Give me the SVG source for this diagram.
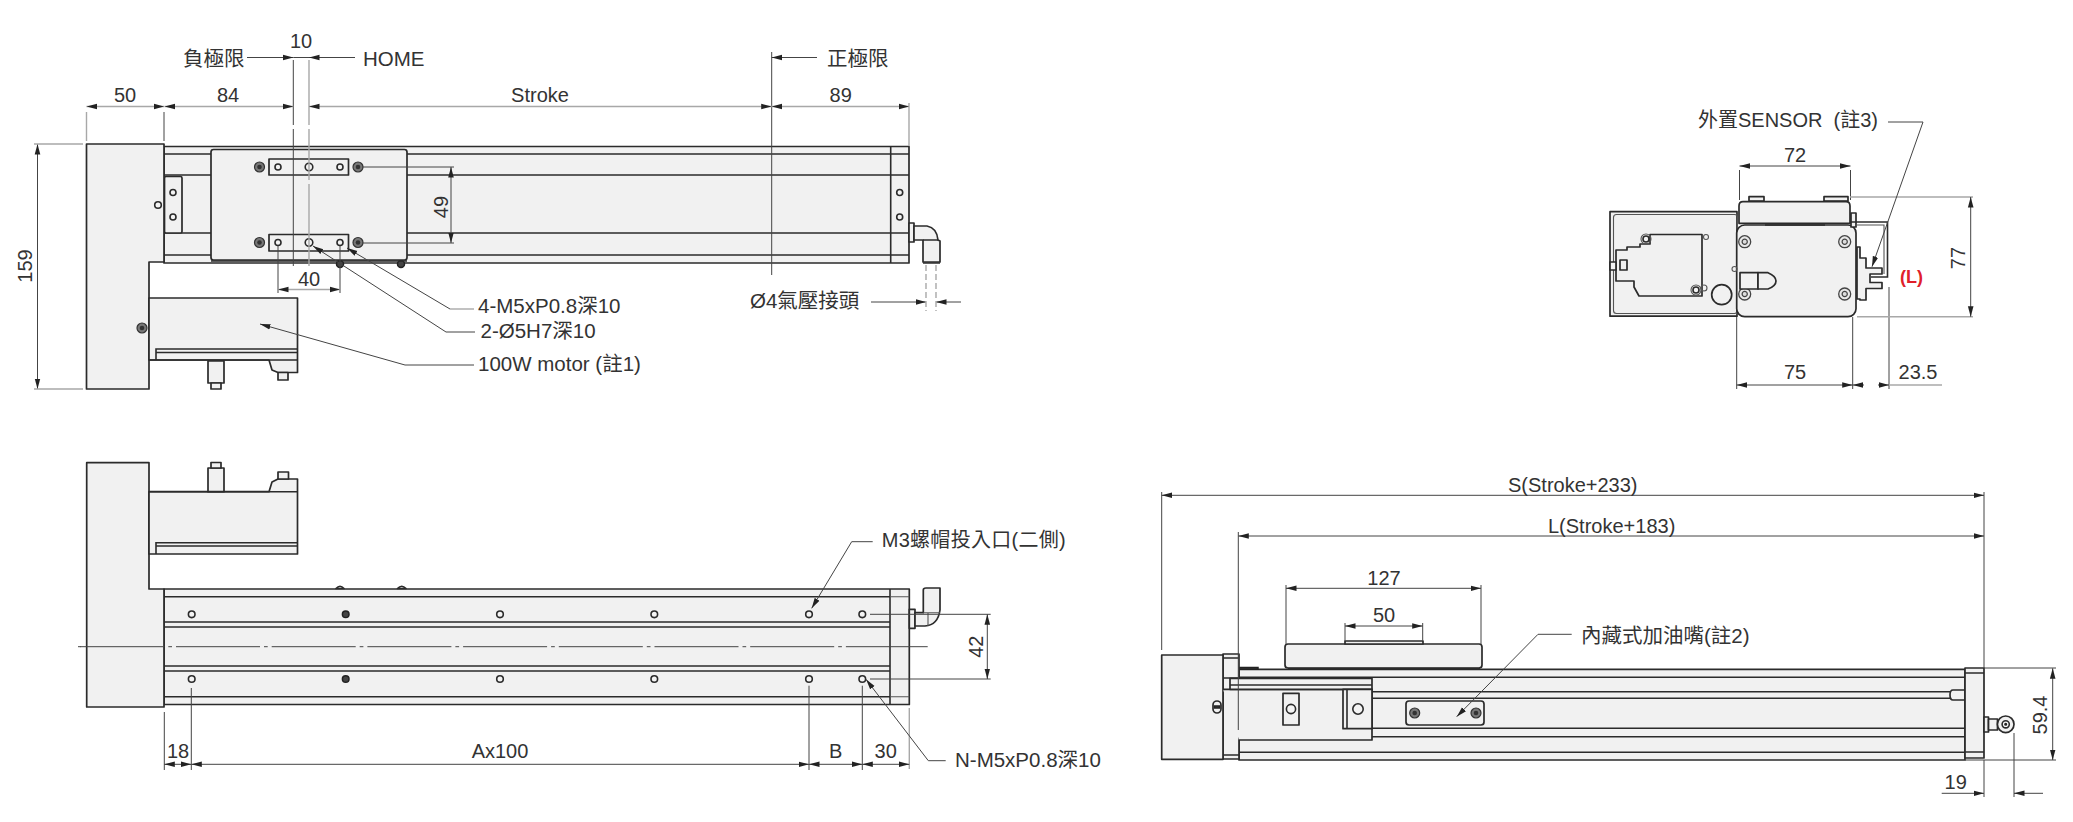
<svg xmlns="http://www.w3.org/2000/svg" width="2073" height="822" viewBox="0 0 2073 822">
<style>
.b{fill:#f1f1f1;stroke:#2b2b2b;stroke-width:1.7;stroke-linejoin:round}
.l{fill:none;stroke:#2b2b2b;stroke-width:1.6}
.s{fill:none;stroke:#555;stroke-width:1.1}
.h{fill:#f4f4f4;stroke:#2b2b2b;stroke-width:1.6}
.k{fill:#444;stroke:#222;stroke-width:1.5}
.d{fill:none;stroke:#444;stroke-width:1}
.g{fill:none;stroke:#a8a8a8;stroke-width:1.4}
.a{marker-end:url(#ah)}
.aa{marker-start:url(#ah);marker-end:url(#ah)}
text{font-family:"Liberation Sans","Noto Sans CJK TC",sans-serif;font-size:20px;fill:#333}
.w{font-size:20.5px}
.m{text-anchor:middle}
.r{font-weight:bold;fill:#e0202a;font-size:18px}
</style>
<defs>
<marker id="ah" markerUnits="userSpaceOnUse" markerWidth="11" markerHeight="8" refX="10.5" refY="4" orient="auto-start-reverse"><path d="M0,1.2 L10.5,4 L0,6.8 Z" fill="#222"/></marker>
<g id="scr"><circle r="6" fill="#e8e8e8" stroke="#444" stroke-width="1.3"/><circle r="2.6" fill="#ddd" stroke="#444" stroke-width="1.2"/></g>
<g id="blt"><circle r="5" fill="#777" stroke="#333" stroke-width="1.2"/><circle r="2.3" fill="#333"/></g>
</defs>

<g id="top-view">
<path class="b" d="M164,146.5H909V263H164Z"/>
<path class="l" d="M164,154H909M164,175H909M164,233H909M164,255H909M890.7,146.5V263"/>
<rect class="b" x="164.5" y="176.5" width="17.5" height="56.5" rx="1.5"/>
<circle class="h" cx="173" cy="192.5" r="3"/><circle class="h" cx="173" cy="217" r="3"/>
<circle class="h" cx="899.7" cy="192.5" r="3"/><circle class="h" cx="899.7" cy="217" r="3"/>
<circle class="k" cx="340" cy="264" r="3.5"/><circle class="k" cx="401" cy="264" r="3.5"/>
<rect class="b" x="211" y="149.5" width="196" height="110.5" rx="2.5"/>
<path class="l" d="M211,261H407"/>
<rect class="b" x="269" y="159" width="79.5" height="16"/><rect class="b" x="269" y="234.5" width="79.5" height="16.5"/>
<circle class="h" cx="278" cy="167" r="3"/><circle class="h" cx="309" cy="167" r="3.8"/><circle class="h" cx="340" cy="167" r="3"/>
<circle class="h" cx="278" cy="242.5" r="3"/><circle class="h" cx="309" cy="242.5" r="3.8"/><circle class="h" cx="340" cy="242.5" r="3"/>
<use href="#blt" x="259.5" y="167"/><use href="#blt" x="358" y="167"/><use href="#blt" x="259.5" y="242.5"/><use href="#blt" x="358" y="242.5"/>
<path class="b" d="M86.5,144H164V262H149V389H86.5Z"/>
<circle class="h" cx="158" cy="205" r="3.3"/><use href="#blt" x="142" y="328"/>
<path class="b" d="M149,298H297.5V372.5H278L272,370L269,360H149Z"/>
<path class="l" d="M156,360V349H297M156,352.5H297M149,360H297"/>
<rect class="b" x="208" y="361" width="16" height="22"/><rect class="b" x="211" y="383" width="10" height="6"/>
<rect class="b" x="278" y="372.5" width="10" height="7.5"/>
<rect class="b" x="909" y="223" width="5" height="19"/>
<path class="b" d="M914,226H927Q937,228 938,240L940,241V262H923V240H914Z"/>
<path class="l" d="M923,240H938M923,263H940" />
</g>

<g id="side-view">
<rect class="b" x="1610" y="211.7" width="127" height="104.5"/>
<rect class="s" x="1613.5" y="214.5" width="124" height="99" rx="3"/>
<path class="b" d="M1749,201V196.7H1764V201ZM1824,201V196.7H1848V201Z"/>
<path class="b" d="M1739,223.3V206Q1739,201.7 1743,201.7H1846Q1850,201.7 1850,206V223.3Z"/>
<rect class="b" x="1736.7" y="225" width="119.3" height="91.7" rx="8"/>
<path class="l" d="M1765,225H1825" stroke-width="2.4"/>
<rect class="b" x="1851" y="213" width="5" height="14"/>
<path class="l" d="M1850,222H1887.5V277H1871"/>
<path class="s" d="M1856,225H1884V274"/>
<path class="b" d="M1650,234.5H1702V296H1639L1634,287V281H1616V250H1627V247H1640V244H1650Z"/>
<rect class="b" x="1620" y="260" width="7" height="10"/>
<rect class="b" x="1610" y="262" width="6" height="8"/>
<circle class="s" cx="1646" cy="239" r="5"/><circle class="h" cx="1646" cy="239" r="3"/>
<circle class="s" cx="1696" cy="290" r="5"/><circle class="h" cx="1696" cy="290" r="3"/>
<circle class="s" cx="1706" cy="237" r="2.5"/><circle class="s" cx="1704" cy="288" r="3"/>
<circle class="b" cx="1721.7" cy="294.7" r="10" fill="#f7f7f7"/>
<use href="#scr" x="1744.7" y="241.7"/><use href="#scr" x="1844.7" y="241.7"/><use href="#scr" x="1744.7" y="294"/><use href="#scr" x="1844.7" y="294"/>
<path class="b" d="M1740,272.7H1758V289H1740Z"/>
<path class="b" d="M1758,272.7H1768Q1776,276 1776,281Q1776,286 1768,289H1758Z"/>
<circle class="s" cx="1734.5" cy="269" r="2.5"/>
<path class="b" d="M1857,247V299H1860V300H1866V288.5H1882V282.5H1870V274H1882V268H1866V258H1860V247Z"/>
<text class="r" x="1900" y="283">(L)</text>
</g>

<g id="bottom-view">
<path class="b" d="M164,589H909.3V704.5H164Z"/>
<path class="l" d="M164,596.7H890M164,622H890M164,627H890M164,666H890M164,671H890M164,696.7H890M890,589V704.5"/>
<path class="s" d="M890,596.7H909.3M890,696.7H909.3"/>
<g>
<circle class="h" cx="191.7" cy="614.3" r="3.3"/><circle class="k" cx="345.7" cy="614.3" r="3.3"/><circle class="h" cx="500" cy="614.3" r="3.3"/><circle class="h" cx="654.3" cy="614.3" r="3.3"/><circle class="h" cx="809" cy="614.3" r="3.3"/><circle class="h" cx="862.3" cy="614.3" r="3.3"/>
<circle class="h" cx="191.7" cy="679" r="3.3"/><circle class="k" cx="345.7" cy="679" r="3.3"/><circle class="h" cx="500" cy="679" r="3.3"/><circle class="h" cx="654.3" cy="679" r="3.3"/><circle class="h" cx="809" cy="679" r="3.3"/><circle class="h" cx="862.3" cy="679" r="3.3"/>
</g>
<path class="b" d="M336,588.5Q340,584 344,588.5ZM397.5,588.5Q401.7,584 406,588.5Z"/>
<path class="b" d="M86.7,462.7H149V589H164V707H86.7Z"/>
<path class="d" d="M78,646.7H81"/>
<path class="d" d="M80.3,646.7H927.7" stroke-dasharray="84 4 3.7 4"/>
<path class="b" d="M149,491.7H269L272,482L278,479H297.5V554H149Z"/>
<path class="l" d="M156,554V542.7H297M156,546H297M149,491.7H297"/>
<rect class="b" x="208" y="468" width="16" height="23.7"/><rect class="b" x="211" y="462.5" width="10" height="5.5"/>
<rect class="b" x="278" y="472" width="10.5" height="7"/>
<rect class="b" x="909.3" y="609.3" width="5.7" height="19"/>
<path class="b" d="M915,612.7H923.3V590Q923.3,588 926,588H940V610Q938,625 925,626H915Z"/>
<path class="s" d="M923.3,612.7H940M928,612.7V626"/>
</g>

<g id="end-view">
<path class="b" d="M1239,669.3H1965V760H1239Z"/>
<path class="l" d="M1239,677.3H1965M1239,691.7H1950M1239,698.3H1950M1239,728.3H1965M1239,736.7H1965M1239,752.3H1965"/>
<path class="b" d="M1965,690H1953Q1950,690 1950,695Q1950,700 1953,700H1965Z"/>
<path class="k" d="M1239,667.5H1258V669.3H1239Z"/>
<rect class="b" x="1285" y="644" width="197" height="24" rx="3"/>
<path class="l" d="M1288,668.5H1480" stroke-width="2.4"/>
<rect class="b" x="1345" y="641" width="78" height="3"/>
<rect class="b" x="1223" y="654" width="16" height="105"/>
<path class="l" d="M1223,658H1239M1223,678H1239M1223,755H1239"/>
<rect class="b" x="1161.7" y="655" width="61.3" height="104.3"/>
<rect class="b" x="1213" y="701" width="8" height="12" rx="4" fill="#888"/>
<path class="k" d="M1214.5,706H1219.5V708H1214.5Z" />
<path class="b" d="M1223,689.3H1372V740H1239"/>
<path class="b" d="M1230,678.3H1372V689.3H1230Z"/>
<path class="l" d="M1230,685H1372"/>
<rect class="b" x="1283" y="693.3" width="16" height="31.7"/><circle class="h" cx="1291" cy="709" r="4.6"/>
<path class="b" d="M1343,689.3H1372V728.7H1343Z"/><path class="l" d="M1347,689.3V728.7"/><circle class="h" cx="1358" cy="709" r="5.2"/>
<rect class="b" x="1406" y="701" width="78" height="24" rx="3"/>
<use href="#blt" x="1414.7" y="713"/><use href="#blt" x="1476" y="713"/>
<rect class="b" x="1965" y="668" width="19" height="90"/>
<path class="l" d="M1965,673H1984M1965,752H1984"/>
<rect class="b" x="1984" y="717" width="4.5" height="15"/><rect class="b" x="1988.5" y="719" width="9" height="11"/>
<circle class="b" cx="2005.7" cy="724.3" r="8.3"/><circle class="h" cx="2005.7" cy="724.3" r="3.6"/><circle class="k" cx="2005.7" cy="724.3" r="0.8"/>
</g>

<g id="connectors">
<!-- top view -->
<path class="g" d="M86.5,112V141M909,103V146"/>
<path class="d" d="M164,112V141M293.3,60V125M293.3,129V266M771.7,52V275"/>
<path class="g" d="M309,60V125M309,129V180M309,184V266"/>
<path class="g aa" d="M86.5,106.5H164"/>
<path class="g aa" d="M164.5,106.5H293.3"/>
<path class="g aa" d="M309,106.5H771.7"/>
<path class="g aa" d="M771.7,106.5H909"/>
<path class="d a" d="M247,57.5H293.3"/><path class="d" d="M293.3,57.5H309"/><path class="d a" d="M355,57.5H309"/>
<path class="d a" d="M817,57.5H771.7"/>
<path class="d aa" d="M451,167V243"/>
<path class="d" d="M362,167H454M362,243H454"/>
<path class="d" d="M278,246V293M340,246V293"/>
<path class="g aa" d="M278,289.5H340"/>
<path class="d aa" d="M37.5,144V389"/>
<path class="g" d="M34,144H83M34,389H83"/>
<path class="g" d="M474,309H450"/>
<path class="d a" d="M450,309L347,248"/>
<path class="d a" d="M475,332H446L313,246"/>
<path class="d a" d="M474,365H405L260,324"/>
<path class="d a" d="M871,302H926"/><path class="d a" d="M961,302H936"/>
<path class="g" d="M926,265V311M936,265V311" stroke-dasharray="6 3"/>
<!-- side view -->
<path class="d" d="M1739.5,170V200M1850.5,170V200M1736.7,317V389M1852.7,317V389M1889,287V389"/>
<path class="d aa" d="M1739.5,166H1850.5"/>
<path class="g" d="M1850,197H1973M1857,316.7H1973"/>
<path class="d aa" d="M1970.7,197V316.7"/>
<path class="d aa" d="M1736.7,385H1852.7"/>
<path class="d a" d="M1864,385H1852.7"/><path class="d a" d="M1878,385H1889"/><path class="g" d="M1889,385H1942"/>
<path class="d a" d="M1888,122H1923L1872,266.7"/>
<!-- bottom view -->
<path class="d" d="M164.3,712V770M191.3,688V770M809,685.7V770M862.3,685.7V770"/><path class="g" d="M909.3,708V769"/>
<path class="d aa" d="M164.3,764.3H191.3"/><path class="d aa" d="M191.3,764.3H809"/><path class="d aa" d="M809,764.3H862.3"/><path class="d aa" d="M862.3,764.3H909.3"/>
<path class="d" d="M870,614.3H990.7M870,679H990.7"/>
<path class="d aa" d="M987.3,614.3V679"/>
<path class="d a" d="M872.7,541.7H851.7L811.7,608.3"/>
<path class="d a" d="M945.7,760.7H928.3L866,679.3"/>
<!-- end view -->
<path class="d" d="M1161.7,492V650M1984,492V668M1238.3,532V730M1286,585V644M1481,585V644M1345,623V641M1422.7,623V641"/>
<path class="d aa" d="M1161.7,495.3H1984"/><path class="d aa" d="M1238.3,536H1984"/>
<path class="d aa" d="M1286,588.3H1481"/><path class="d aa" d="M1345,626H1422.7"/>
<path class="d a" d="M1571.7,634.3H1538L1456.7,716.7"/>
<path class="d" d="M1984,668H2056M1965,760H2056M1984,760V797M2014,733V797"/>
<path class="d aa" d="M2052.7,668.3V760"/>
<path class="d a" d="M1941.7,793.3H1984"/><path class="d a" d="M2043,793.3H2014"/>
</g>

<g id="labels">
<text class="m" x="301" y="48">10</text>
<text class="w" x="183" y="66">負極限</text>
<text class="w" x="363" y="66">HOME</text>
<text class="m" x="125" y="102">50</text>
<text class="m" x="228" y="102">84</text>
<text class="m" x="540" y="102">Stroke</text>
<text class="w" x="827" y="66">正極限</text>
<text class="m" x="840.7" y="102">89</text>
<text class="m" transform="translate(448,207) rotate(-90)">49</text>
<text class="m" x="309" y="286">40</text>
<text class="m" transform="translate(32,266) rotate(-90)">159</text>
<text class="w" x="478" y="313">4-M5xP0.8深10</text>
<text class="w" x="480.5" y="338">2-Ø5H7深10</text>
<text class="w" x="478" y="371">100W motor (註1)</text>
<text class="w" x="750" y="308">Ø4氣壓接頭</text>
<text x="1698" y="127" xml:space="preserve">外置SENSOR  (註3)</text>
<text class="m" x="1795" y="161.7">72</text>
<text class="m" transform="translate(1965,258) rotate(-90)">77</text>
<text class="m" x="1795" y="379">75</text>
<text class="m" x="1918" y="379">23.5</text>
<text x="881.7" y="547.3" textLength="184">M3螺帽投入口(二側)</text>
<text class="m" transform="translate(983,646.7) rotate(-90)">42</text>
<text class="m" x="178" y="758">18</text>
<text class="m" x="500" y="758">Ax100</text>
<text class="m" x="835.7" y="757.5">B</text>
<text class="m" x="885.7" y="757.5">30</text>
<text class="w" x="955" y="766.7">N-M5xP0.8深10</text>
<text x="1508" y="491.7">S(Stroke+233)</text>
<text x="1548" y="533">L(Stroke+183)</text>
<text class="m" x="1384" y="585">127</text>
<text class="m" x="1384" y="621.7">50</text>
<text class="w" x="1581" y="643">內藏式加油嘴(註2)</text>
<text class="m" transform="translate(2047,715) rotate(-90)">59.4</text>
<text class="m" x="1955.7" y="789.3">19</text>
</g>
</svg>
